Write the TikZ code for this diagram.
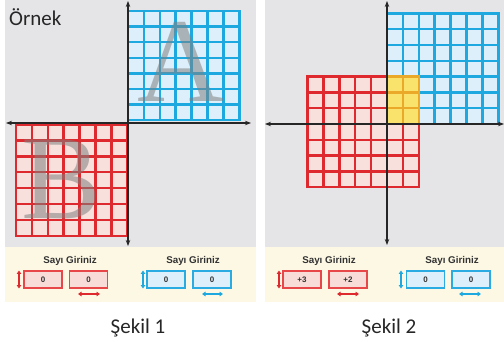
\documentclass[tikz,border=0pt]{standalone}
\usepackage{fontspec}
\setmainfont{Carlito}
\newfontfamily\arialf{Liberation Sans}
\newfontfamily\timesf{Liberation Serif}
\usetikzlibrary{arrows.meta}
\definecolor{panelgray}{HTML}{E5E5E8}
\definecolor{bandcream}{HTML}{FCF8E4}
\definecolor{bline}{HTML}{1EA8E0}
\definecolor{bfill}{HTML}{DCEFFA}
\definecolor{rline}{HTML}{DE2A2E}
\definecolor{rfill}{HTML}{F8E1DD}
\definecolor{yfill}{HTML}{FAE36C}
\definecolor{oline}{HTML}{EBA92A}
\definecolor{rbox}{HTML}{E8474A}
\definecolor{rboxf}{HTML}{F8DCD8}
\definecolor{bbox}{HTML}{2AACE2}
\definecolor{bboxf}{HTML}{DDEFFB}
\definecolor{txtdark}{HTML}{333333}
\tikzset{
  axis/.style={line width=1.1pt,draw=black!85,-{Stealth[length=6pt,width=4.5pt]}},
  gline/.style={line width=2.5pt,line cap=rect},
  inbox/.style={draw,line width=1.1pt,minimum width=38pt,minimum height=17pt,inner sep=0pt,font=\arialf\bfseries\fontsize{8}{8}\selectfont,text=txtdark},
  redbox/.style={inbox,draw=rbox,fill=rboxf},
  bluebox/.style={inbox,draw=bbox,fill=bboxf},
  sayi/.style={font=\arialf\bfseries\fontsize{9.8}{10}\selectfont,text=txtdark,inner sep=0pt},
  dblarr/.style={line width=1.1pt,{Triangle[length=3.5pt,width=4.5pt]}-{Triangle[length=3.5pt,width=4.5pt]}},
  caption/.style={font=\fontsize{21}{21}\selectfont,text=black!85,inner sep=0pt},
  bigletter/.style={font=\timesf\fontsize{120}{120}\selectfont,text=black!50,opacity=0.55,inner sep=0pt,anchor=base}
}
% draw a grid: #1 x0, #2 y0, #3 cw, #4 ch, #5 nx, #6 ny, #7 line colour, #8 fill colour
\newcommand\drawgrid[8]{%
  \fill[#8] (#1,#2) rectangle ++({#3*#5},{#4*#6});
  \foreach \i in {0,...,#5}{\draw[gline,#7] ({#1+\i*#3},#2) -- ++(0,{#4*#6});}
  \foreach \j in {0,...,#6}{\draw[gline,#7] (#1,{#2+\j*#4}) -- ++({#3*#5},0);}
}
\begin{document}
\begin{tikzpicture}[x=1pt,y=-1pt]
\useasboundingbox (0,0) rectangle (504,342);
\fill[white] (0,0) rectangle (504,342);
% panels
\fill[panelgray] (5,0) rectangle (256,247);
\fill[bandcream] (5,247) rectangle (256,302);
\fill[panelgray] (265,0) rectangle (504,247);
\fill[bandcream] (265,247) rectangle (504,302);

% ---------- Panel 1 ----------
\drawgrid{128}{11}{15.9}{15.6}{7}{7}{bline}{bfill}
\drawgrid{16}{124.5}{15.9}{15.9}{7}{7}{rline}{rfill}
\node[bigletter] (letA) at (181,102) {A};
\node[bigletter] (letB) at (62,219) {B};
\coordinate (p1t) at (128,1);
\coordinate (p1b) at (128,246);
\coordinate (p1l) at (6,123);
\coordinate (p1r) at (251,123);
\coordinate (p1o) at (128,123);
\draw[axis] (p1o) -- (p1t);
\draw[axis] (p1o) -- (p1b);
\draw[axis] (p1o) -- (p1l);
\draw[axis] (p1o) -- (p1r);
\node[caption,anchor=base west] (ornek) at (9,26) {Örnek};

% ---------- Panel 2 ----------
\drawgrid{387}{13.4}{15.9}{15.8}{7}{7}{bline}{bfill}
\drawgrid{307.5}{76.6}{15.9}{15.8}{7}{7}{rline}{rfill}
\drawgrid{387}{76.6}{15.9}{15.8}{2}{3}{oline}{yfill}
\coordinate (p2t) at (387,1);
\coordinate (p2b) at (387,245);
\coordinate (p2l) at (265,124);
\coordinate (p2r) at (504,124);
\coordinate (p2o) at (387,124);
\draw[axis] (p2o) -- (p2t);
\draw[axis] (p2o) -- (p2b);
\draw[axis] (p2o) -- (p2l);
\draw[axis] (p2o) -- (p2r);

% ---------- Bands ----------
\node[sayi] (s1r) at (70,261) {Sayı Giriniz};
\node[sayi] (s1b) at (193,261) {Sayı Giriniz};
\node[sayi] (s2r) at (329,261) {Sayı Giriniz};
\node[sayi] (s2b) at (452,261) {Sayı Giriniz};

\node[redbox] (r1a) at (43,279.5) {0};
\node[redbox] (r1b) at (88.5,279.5) {0};
\node[bluebox] (b1a) at (166,279.5) {0};
\node[bluebox] (b1b) at (212,279.5) {0};
\node[redbox] (r2a) at (302,279.5) {+3};
\node[redbox] (r2b) at (348,279.5) {+2};
\node[bluebox] (b2a) at (425.5,279.5) {0};
\node[bluebox] (b2b) at (471,279.5) {0};

% vertical double arrows
\coordinate (v1rt) at (19,270.5); \coordinate (v1rb) at (19,288.5);
\coordinate (v1bt) at (143,270.5); \coordinate (v1bb) at (143,288.5);
\coordinate (v2rt) at (279,270.5); \coordinate (v2rb) at (279,288.5);
\coordinate (v2bt) at (401,270.5); \coordinate (v2bb) at (401,288.5);
\draw[dblarr,rline] (v1rt) -- (v1rb);
\draw[dblarr,bline] (v1bt) -- (v1bb);
\draw[dblarr,rline] (v2rt) -- (v2rb);
\draw[dblarr,bline] (v2bt) -- (v2bb);
% horizontal double arrows
\coordinate (h1rl) at (78,294); \coordinate (h1rr) at (100,294);
\coordinate (h1bl) at (202,294); \coordinate (h1br) at (223,294);
\coordinate (h2rl) at (337,294); \coordinate (h2rr) at (359,294);
\coordinate (h2bl) at (459,294); \coordinate (h2br) at (481,294);
\draw[dblarr,rline] (h1rl) -- (h1rr);
\draw[dblarr,bline] (h1bl) -- (h1br);
\draw[dblarr,rline] (h2rl) -- (h2rr);
\draw[dblarr,bline] (h2bl) -- (h2br);

% captions
\node[caption,anchor=base] (sek1) at (138,333) {Şekil 1};
\node[caption,anchor=base] (sek2) at (389,333) {Şekil 2};
\end{tikzpicture}
\end{document}
